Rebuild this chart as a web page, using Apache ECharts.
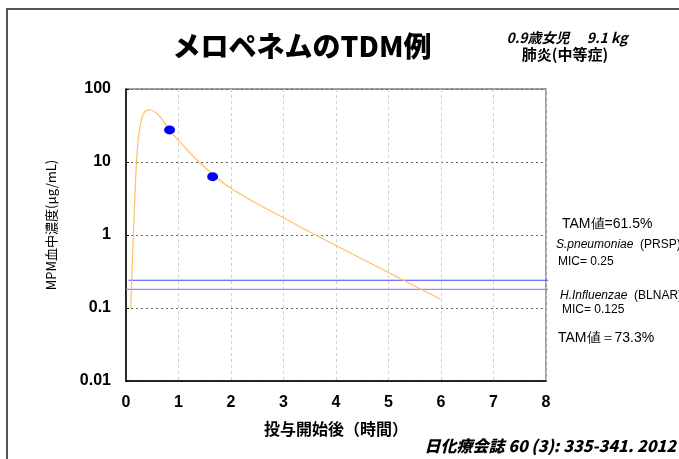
<!DOCTYPE html>
<html>
<head>
<meta charset="utf-8">
<script src="https://cdn.jsdelivr.net/npm/echarts@6/dist/echarts.min.js"></script>
<style>
  html, body { margin: 0; padding: 0; background: #fff; }
  #main { width: 679px; height: 459px; }
</style>
</head>
<body>
<div id="main"></div>
<script>
// simulated MEPM concentration curve (hours, ug/mL)
var curveTime = [0.09, 0.12, 0.14, 0.17, 0.2, 0.24, 0.3, 0.36, 0.45, 0.56, 0.67, 0.83, 0.99, 1.17, 1.41, 1.65, 1.98, 2.49, 3.0, 3.5, 4.0, 4.46, 5.0, 5.25, 5.6, 5.98];
var curveConc = [0.1, 0.4, 1, 3.5, 10, 23, 40, 49, 52, 48, 40, 27.5, 20.1, 14.5, 9.7, 6.8, 4.43, 2.7, 1.72, 1.1, 0.72, 0.485, 0.306, 0.248, 0.184, 0.133];

// measured points
var measTime = [0.83, 1.65];
var measConc = [27.5, 6.3];

// MIC reference lines
var micPrsp = 0.24;
var micBlnar = 0.18;
var micStart = [0.05, 0];
var micEnd = 8.15;

var xTicks = [0, 8, 1];

var chart = echarts.init(document.getElementById('main'));

var curveData = curveTime.map(function (t, i) { return [t, curveConc[i]]; });
var measData = measTime.map(function (t, i) { return [t, measConc[i]]; });

var jp = '"Noto Sans CJK JP", sans-serif';
var lat = '"Liberation Sans", Arial, sans-serif';

option = {
    animation: false,
    grid: {
        left: 126, right: 133, top: 89, bottom: 78,
        show: true,
        borderColor: '#808080',
        borderWidth: 1.5
    },
    xAxis: {
        type: 'value',
        min: xTicks[0],
        max: xTicks[1],
        interval: xTicks[2],
        name: '投与開始後（時間）',
        nameLocation: 'middle',
        nameGap: 40,
        nameTextStyle: { fontFamily: jp, fontWeight: 'bold', fontSize: 16, color: '#000' },
        axisLine: { lineStyle: { color: '#000', width: 1.5 } },
        axisTick: { show: false },
        axisLabel: { fontFamily: lat, fontWeight: 'bold', fontSize: 16, color: '#000', margin: 14 },
        splitLine: { show: true, lineStyle: { color: '#cfcfcf', type: [3, 3] } }
    },
    yAxis: {
        type: 'log',
        logBase: 10,
        min: 0.01,
        max: 100,
        name: 'MPM血中濃度(μg/mL)',
        nameLocation: 'middle',
        nameGap: 68,
        nameTextStyle: { fontFamily: jp, fontSize: 13, color: '#000', padding: [0, 0, 0, 20] },
        axisLine: { show: true, lineStyle: { color: '#000', width: 1.5 } },
        axisTick: { show: true, inside: true, length: 3, lineStyle: { color: '#000' } },
        minorTick: { show: false },
        axisLabel: { fontFamily: lat, fontWeight: 'bold', fontSize: 16, color: '#000', margin: 15 },
        splitLine: { show: true, lineStyle: { color: '#666', type: [2, 3], width: 1.2 } }
    },
    series: [
        {
            name: 'PRSP',
            type: 'line',
            clip: false,
            symbol: 'none',
            data: [[micStart[0], micPrsp], [micEnd, micPrsp]],
            lineStyle: { color: '#4646ff', width: 1.2 }
        },
        {
            name: 'BLNAR',
            type: 'line',
            clip: false,
            symbol: 'none',
            data: [[micStart[1], micBlnar], [micEnd, micBlnar]],
            lineStyle: { color: '#8f8ff2', width: 1.2 }
        },
        {
            name: 'curve',
            type: 'line',
            symbol: 'none',
            smooth: 0.2,
            data: curveData,
            lineStyle: { color: '#ffc063', width: 1.2 }
        },
        {
            name: 'measured',
            type: 'scatter',
            z: 10,
            symbol: 'circle',
            symbolSize: [11, 9],
            data: measData,
            itemStyle: { color: '#0000ff', opacity: 1 }
        }
    ],
    graphic: [
        {
            type: 'polyline',
            shape: { points: [[7, 459], [7, 9], [679, 9]] },
            style: { stroke: '#555', lineWidth: 2, fill: null }
        },
        {
            type: 'text', x: 302, y: 46,
            style: { text: 'メロペネムのTDM例', fontFamily: jp, fontWeight: 900, fontSize: 28, fill: '#000', align: 'center', verticalAlign: 'middle' }
        },
        {
            type: 'text', x: 567, y: 38,
            style: { text: '0.9歳女児　 9.1 kg', fontFamily: jp, fontWeight: 'bold', fontStyle: 'italic', fontSize: 14, fill: '#000', align: 'center', verticalAlign: 'middle' }
        },
        {
            type: 'text', x: 565, y: 54,
            style: { text: '肺炎(中等症)', fontFamily: jp, fontWeight: 'bold', fontSize: 15, fill: '#000', align: 'center', verticalAlign: 'middle' }
        },
        {
            type: 'text', x: 562, y: 224,
            style: { text: 'TAM値=61.5%', fontFamily: lat, fontSize: 14, fill: '#000', verticalAlign: 'middle' }
        },
        {
            type: 'text', x: 556, y: 245,
            style: {
                text: '{i|S.pneumoniae}  (PRSP)', fontFamily: lat, fontSize: 12, fill: '#000', verticalAlign: 'middle',
                rich: { i: { fontStyle: 'italic', fontFamily: lat, fontSize: 12 } }
            }
        },
        {
            type: 'text', x: 558, y: 262,
            style: { text: 'MIC= 0.25', fontFamily: lat, fontSize: 12, fill: '#000', verticalAlign: 'middle' }
        },
        {
            type: 'text', x: 560, y: 296,
            style: {
                text: '{i|H.Influenzae}  (BLNAR)', fontFamily: lat, fontSize: 12, fill: '#000', verticalAlign: 'middle',
                rich: { i: { fontStyle: 'italic', fontFamily: lat, fontSize: 12 } }
            }
        },
        {
            type: 'text', x: 562, y: 310,
            style: { text: 'MIC= 0.125', fontFamily: lat, fontSize: 12, fill: '#000', verticalAlign: 'middle' }
        },
        {
            type: 'text', x: 558, y: 338,
            style: { text: 'TAM値＝73.3%', fontFamily: lat, fontSize: 14, fill: '#000', verticalAlign: 'middle' }
        },
        {
            type: 'text', x: 676, y: 446,
            style: { text: '日化療会誌 60 (3): 335-341. 2012', fontFamily: jp, fontWeight: 900, fontStyle: 'italic', fontSize: 16, fill: '#000', align: 'right', verticalAlign: 'middle' }
        }
    ]
};

chart.setOption(option);
</script>
</body>
</html>
